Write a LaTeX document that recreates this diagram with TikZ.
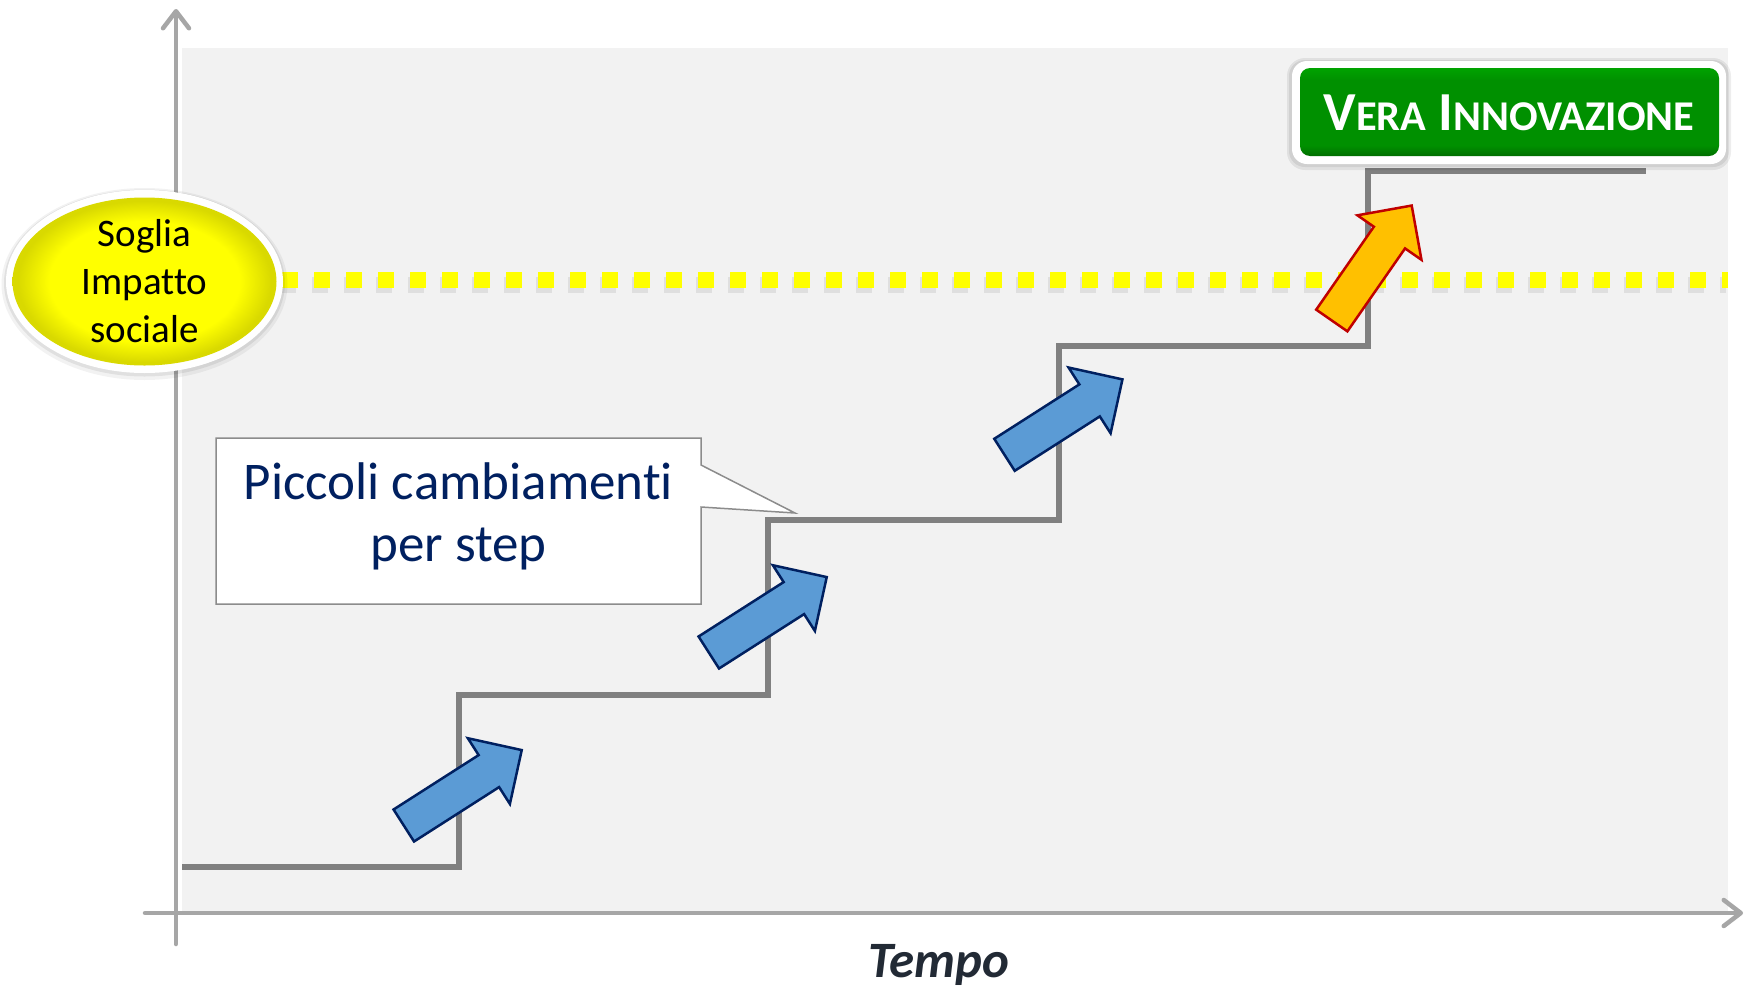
\documentclass[tikz,border=0pt]{standalone}
\usepackage{fontspec}
\setmainfont{Carlito}[Ligatures=CommonOff]
\usetikzlibrary{arrows.meta}
\definecolor{bggray}{HTML}{F2F2F2}
\definecolor{axisgray}{HTML}{A6A6A6}
\definecolor{stairgray}{HTML}{808080}
\definecolor{arrowblue}{HTML}{5B9BD5}
\definecolor{arrowedge}{HTML}{002060}
\definecolor{orangefill}{HTML}{FFC000}
\definecolor{orangeedge}{HTML}{C00000}
\definecolor{navytext}{HTML}{002060}
\definecolor{tempotext}{HTML}{222A35}
\definecolor{greentop}{HTML}{00A300}
\definecolor{greenmid}{HTML}{009000}
\definecolor{greenbot}{HTML}{006E00}
\definecolor{dotyellow}{HTML}{FFFF00}
\definecolor{yellowedge}{HTML}{D9D900}
\definecolor{calloutgray}{HTML}{8C8C8C}
\pgfdeclareradialshading{yelshade}{\pgfpoint{0bp}{0bp}}{color(0bp)=(dotyellow); color(18bp)=(dotyellow); color(24bp)=(yellowedge); color(25bp)=(yellowedge); color(50bp)=(yellowedge)}
\pgfdeclareverticalshading{greenshade}{100bp}{color(0bp)=(greenbot); color(25bp)=(greenbot); color(31bp)=(greenmid); color(68bp)=(greenmid); color(75bp)=(greentop); color(100bp)=(greentop)}
\newcommand{\myblockarrow}[4]{%
  \begin{scope}[shift={(#1,#2)}, rotate=#3]
    \draw[#4] (0,19) -- (101,19) -- (101,39) -- (140,0) -- (101,-39) -- (101,-19) -- (0,-19) -- cycle;
  \end{scope}}
\begin{document}
\begin{tikzpicture}[x=1pt,y=-1pt,
  axisline/.style={draw=axisgray, line width=4.5pt, line cap=round,
    -{Straight Barb[length=17pt,width=26pt,round]}},
  stairline/.style={draw=stairgray, line width=6pt, line join=miter},
  bluearrow/.style={fill=arrowblue, draw=arrowedge, line width=2.5pt, line join=miter},
  orangearrow/.style={fill=orangefill, draw=orangeedge, line width=2.5pt, line join=miter},
  dotline/.style={line width=16pt, dash pattern=on 16pt off 16pt}
]
\useasboundingbox (0,0) rectangle (1746,991);
\fill[white] (0,0) rectangle (1746,991);
% plot background
\fill[bggray] (182,48) rectangle (1728,913);
% axes
\coordinate (yb) at (176,944);
\coordinate (yt) at (176,9);
\coordinate (xl) at (145,913);
\coordinate (xr) at (1743,913);
\draw[axisline] (yb) -- (yt);
\draw[axisline] (xl) -- (xr);
% stair line
\draw[stairline] (182,867) -- (459,867) -- (459,695) -- (768,695) -- (768,520)
  -- (1059,520) -- (1059,346) -- (1368,346) -- (1368,171) -- (1646,171);
% callout
\draw[draw=calloutgray, line width=1.5pt, fill=white, line join=miter]
  (216,438) -- (701,438) -- (701,465) -- (795,513) -- (701,507) -- (701,604) -- (216,604) -- cycle;
\node[font=\fontsize{53}{62}\selectfont, text=navytext, align=center] (piccoli) at (458.5,516) {Piccoli cambiamenti\\per step};
% threshold dotted line
\draw[dotline, draw=black, opacity=0.08] (280,285) -- (1726,285);
\draw[dotline, draw=dotyellow] (282,279.5) -- (1728,279.5);
% ellipse
\fill[black, opacity=0.05] (144.5,284) ellipse [x radius=143, y radius=96];
\fill[black, opacity=0.07] (144.5,283) ellipse [x radius=140.5, y radius=93.5];
\fill[white] (144.5,281.5) ellipse [x radius=138.5, y radius=91.5];
\shade[shading=yelshade] (144.5,281.5) ellipse [x radius=132, y radius=84];
\node[font=\fontsize{39}{48}\selectfont, align=center] (soglia) at (144.5,281.4) {Soglia\\Impatto\\sociale};
% block arrows
\myblockarrow{403.8}{825.5}{32.6}{bluearrow}
\myblockarrow{708.8}{652.5}{32.6}{bluearrow}
\myblockarrow{1004.5}{454.8}{32.6}{bluearrow}
\myblockarrow{1331.8}{320.5}{55.2}{orangearrow}
% green label
\fill[black, opacity=0.07, rounded corners=18pt] (1287,58) rectangle (1731,170);
\fill[black, opacity=0.07, rounded corners=16pt] (1289,60) rectangle (1729,167);
\fill[white, rounded corners=15pt] (1292,61) rectangle (1726,164);
\shade[shading=greenshade, rounded corners=10pt] (1300,68) rectangle (1719,156);
\node[font=\fontsize{55}{60}\selectfont\bfseries, text=white] (vera) at (1509,112.6)
  {V{\fontsize{42.4}{48}\selectfont ERA} I{\fontsize{42.4}{48}\selectfont NNOVAZIONE}};
% axis label
\node[font=\fontsize{51}{60}\selectfont\bfseries\itshape, text=tempotext] (tempo) at (939,965) {Tempo};
\end{tikzpicture}
\end{document}
